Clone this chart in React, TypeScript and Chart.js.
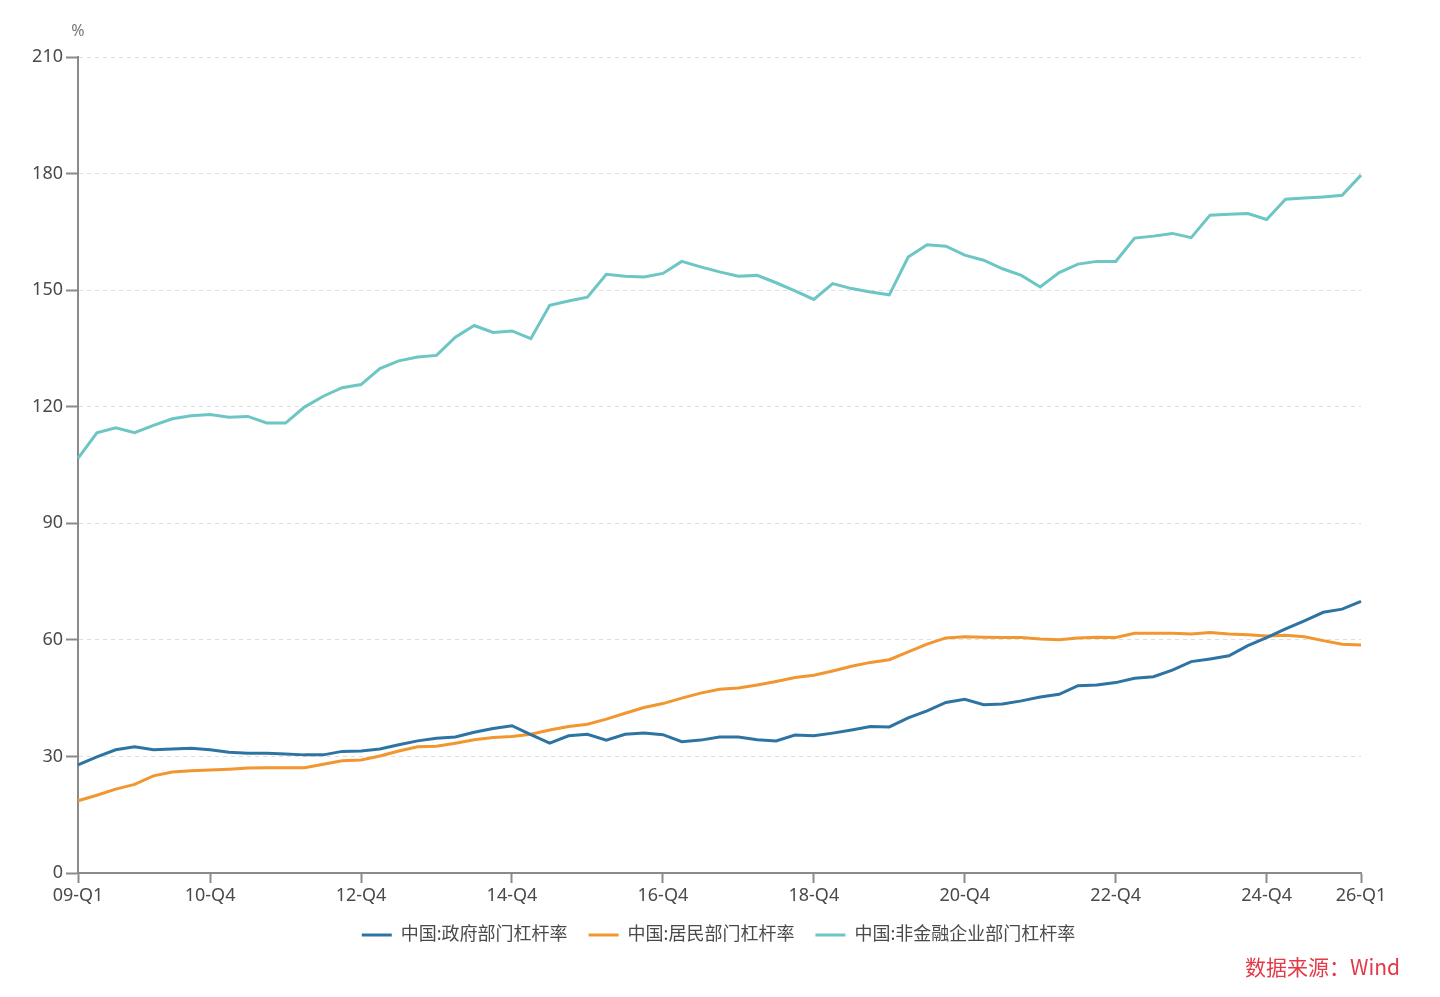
import { useEffect, useRef } from "react";
import Chart from "chart.js/auto";

// 09-Q1 ... 26-Q1
const quarters: string[] = [];
for (let y = 9; y <= 26; y++) {
  for (let q = 1; q <= 4; q++) {
    if (y === 26 && q > 1) break;
    quarters.push(`${String(y).padStart(2, "0")}-Q${q}`);
  }
}

const shownTicks = ["09-Q1", "10-Q4", "12-Q4", "14-Q4", "16-Q4", "18-Q4", "20-Q4", "22-Q4", "24-Q4", "26-Q1"];

const govLeverage = [
  27.8, 29.9, 31.7, 32.5, 31.7, 31.9, 32.1, 31.7, 31.1, 30.8, 30.8, 30.6, 30.4, 30.4, 31.3, 31.4,
  31.9, 33.0, 34.0, 34.7, 35.0, 36.2, 37.2, 37.9, 35.6, 33.4, 35.3, 35.7, 34.2, 35.7, 36.0, 35.6,
  33.8, 34.2, 35.0, 35.0, 34.3, 34.0, 35.5, 35.3, 36.0, 36.8, 37.7, 37.6, 39.9, 41.7, 43.9, 44.7,
  43.3, 43.5, 44.3, 45.3, 46.0, 48.2, 48.4, 49.0, 50.1, 50.5, 52.2, 54.4, 55.1, 55.9, 58.5, 60.6,
  62.8, 64.9, 67.1, 67.9, 69.9,
];

const householdLeverage = [
  18.6, 20.0, 21.6, 22.8, 25.0, 26.0, 26.3, 26.5, 26.7, 27.0, 27.1, 27.1, 27.1, 28.0, 28.9, 29.1,
  30.1, 31.4, 32.5, 32.6, 33.4, 34.3, 34.9, 35.1, 35.7, 36.8, 37.7, 38.3, 39.6, 41.1, 42.6, 43.6,
  45.0, 46.3, 47.3, 47.6, 48.4, 49.3, 50.3, 50.9, 52.0, 53.2, 54.2, 54.9, 56.9, 58.9, 60.5, 60.8,
  60.7, 60.6, 60.6, 60.2, 60.0, 60.5, 60.7, 60.6, 61.7, 61.7, 61.7, 61.5, 61.9, 61.5, 61.3, 61.0,
  61.2, 60.8, 59.8, 58.9, 58.7,
];

const corpLeverage = [
  106.7, 113.3, 114.6, 113.3, 115.2, 116.9, 117.7, 118.0, 117.3, 117.5, 115.8, 115.8, 119.9, 122.7,
  124.9, 125.7, 129.8, 131.8, 132.8, 133.2, 137.9, 140.9, 139.1, 139.5, 137.5, 146.1, 147.2, 148.2,
  154.1, 153.6, 153.4, 154.3, 157.4, 156.0, 154.7, 153.6, 153.8, 151.9, 149.8, 147.6, 151.7, 150.4,
  149.5, 148.8, 158.5, 161.7, 161.3, 159.0, 157.7, 155.5, 153.8, 150.8, 154.5, 156.7, 157.4, 157.4,
  163.4, 163.9, 164.6, 163.5, 169.3, 169.5, 169.7, 168.2, 173.4, 173.7, 174.0, 174.4, 179.6,
];

const yTicks = [0, 30, 60, 90, 120, 150, 180, 210];

const FONT = "'Noto Sans', 'Noto Sans CJK SC', sans-serif";
const AXIS = "#8a8a8a";
const TEXT = "#4a4a4a";

const percentLabel = {
  id: "percentLabel",
  afterLayout(chart: Chart) {
    // centre the legend under the plot area rather than the whole canvas
    if (chart.legend) {
      chart.legend.left += 38;
      chart.legend.right += 38;
    }
  },
  afterDraw(chart: Chart) {
    const { ctx, chartArea } = chart;
    ctx.save();
    ctx.fillStyle = "#777";
    ctx.font = `16px ${FONT}`;
    ctx.textAlign = "center";
    ctx.textBaseline = "middle";
    ctx.fillText("%", chartArea.left, chartArea.top - 26);
    ctx.restore();
  },
};

function LeverageChart() {
  const canvasRef = useRef<HTMLCanvasElement>(null);

  useEffect(() => {
    if (!canvasRef.current) return;
    const chart = new Chart(canvasRef.current, {
      type: "line",
      data: {
        labels: quarters,
        datasets: [
          { label: "中国:政府部门杠杆率", data: govLeverage, color: "#2e74a3" },
          { label: "中国:居民部门杠杆率", data: householdLeverage, color: "#f2962f" },
          { label: "中国:非金融企业部门杠杆率", data: corpLeverage, color: "#6cc6c3" },
        ].map((d) => ({
          label: d.label,
          data: d.data,
          borderColor: d.color,
          backgroundColor: d.color,
          borderWidth: 3,
          pointRadius: 0,
          tension: 0,
        })),
      },
      options: {
        responsive: true,
        maintainAspectRatio: false,
        animation: false,
        layout: { padding: { top: 57, right: 79, left: 0, bottom: 43 } },
        plugins: {
          tooltip: { enabled: false },
          legend: {
            position: "bottom",
            labels: {
              color: TEXT,
              font: { family: FONT, size: 18 },
              boxWidth: 30,
              boxHeight: 3,
              padding: 21,
              generateLabels(c) {
                return Chart.defaults.plugins.legend.labels
                  .generateLabels(c)
                  .map((l) => ({ ...l, lineWidth: 0 }));
              },
            },
          },
        },
        scales: {
          x: {
            offset: false,
            afterFit(scale) {
              scale.height = 32;
            },
            grid: {
              drawOnChartArea: false,
              drawTicks: true,
              tickLength: 10,
              tickColor: AXIS,
              tickWidth: 2,
            },
            border: { color: AXIS, width: 2 },
            ticks: {
              autoSkip: false,
              maxRotation: 0,
              padding: 2,
              color: TEXT,
              font: { family: FONT, size: 18 },
              callback(value) {
                const lab = quarters[value as number];
                return shownTicks.includes(lab) ? lab : null;
              },
            },
          },
          y: {
            min: 0,
            max: 210,
            afterFit(scale) {
              scale.width = 78;
            },
            afterBuildTicks(scale) {
              scale.ticks = yTicks.map((v) => ({ value: v }));
            },
            grid: {
              color: "#dedede",
              lineWidth: 1,
              tickLength: 12,
              tickColor: AXIS,
              tickWidth: 2,
              tickBorderDash: [],
            },
            border: { color: AXIS, width: 2, dash: [4, 4] },
            ticks: {
              padding: 3,
              color: TEXT,
              font: { family: FONT, size: 18 },
            },
          },
        },
      },
      plugins: [percentLabel],
    });

    return () => chart.destroy();
  }, []);

  return (
    <div style={{ position: "relative", width: 1440, height: 997 }}>
      <canvas ref={canvasRef} />
      <div
        style={{
          position: "absolute",
          right: 40,
          top: 951,
          color: "#e23a48",
          fontSize: 21,
          fontFamily: "'Noto Sans CJK SC', 'Noto Sans', sans-serif",
        }}
      >
        数据来源：Wind
      </div>
    </div>
  );
}

export default function App() {
  useEffect(() => {
    document.body.style.margin = "0";
  }, []);
  return <LeverageChart />;
}
